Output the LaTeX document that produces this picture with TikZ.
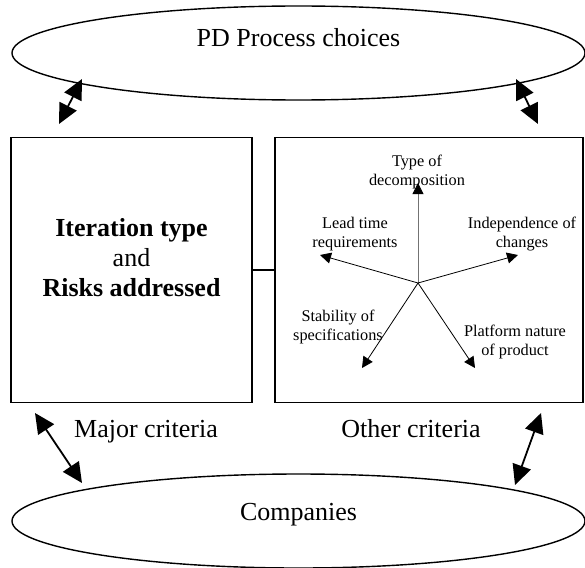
\documentclass[tikz,border=0pt]{standalone}
\usepackage{fontspec}
\setmainfont{Liberation Serif}
\usetikzlibrary{shapes.geometric,arrows.meta}
\begin{document}
\begin{tikzpicture}[x=1pt,y=-1pt,
  oval/.style={draw, line width=1.4pt, ellipse, minimum width=573pt, minimum height=94pt, inner sep=0pt},
  panel/.style={draw, line width=1.4pt, minimum height=265pt, inner sep=0pt},
  bigtext/.style={font=\fontsize{26}{30}\selectfont, align=center, inner sep=0pt},
  boldtext/.style={font=\fontsize{26}{30}\selectfont, align=center, inner sep=0pt},
  smalltext/.style={font=\fontsize{16.3}{18.5}\selectfont, align=center, inner sep=0pt},
  linkarrow/.style={line width=1.8pt, {Triangle[length=20pt,width=19pt]}-{Triangle[length=20pt,width=19pt]}},
  ray/.style={line width=0.8pt, -{Triangle[length=11pt,width=11pt,color=black]}}]
  % frame of the page
  \useasboundingbox (0,0) rectangle (585,567);

  % the two ovals
  \node[oval] (pd) at (298.5,53) {};
  \node[bigtext, anchor=base] (pdtext) at (298.5,47) {PD Process choices};
  \node[oval] (co) at (298.5,521) {};
  \node[bigtext, anchor=base] (cotext) at (298.5,520) {Companies};

  % the two criteria panels
  \node[panel, minimum width=241pt] (major) at (131.5,270) {};
  \node[panel, minimum width=308pt] (other) at (429,270) {};
  \draw[line width=1.1pt] (major.east) -- (other.west);

  \node[boldtext] (iter) at (131.5,258) {\textbf{Iteration type}\\and\\\textbf{Risks addressed}};

  % labels under the panels
  \node[bigtext, anchor=base] (majlab) at (146,437) {Major criteria};
  \node[bigtext, anchor=base] (othlab) at (411,437) {Other criteria};

  % links between ovals and panels
  \coordinate (tlA) at (82,79);   \coordinate (tlB) at (59,124);
  \coordinate (trA) at (516,79);  \coordinate (trB) at (538,124);
  \coordinate (blA) at (35,413);  \coordinate (blB) at (82,483);
  \coordinate (brA) at (541,413); \coordinate (brB) at (515,485);
  \draw[linkarrow] (tlA) -- (tlB);
  \draw[linkarrow] (trA) -- (trB);
  \draw[linkarrow] (blA) -- (blB);
  \draw[linkarrow] (brA) -- (brB);

  % star of other criteria
  \coordinate (hub) at (418,283);
  \coordinate (rUp) at (418,183);
  \coordinate (rLead) at (320,255);
  \coordinate (rIndep) at (518,255);
  \coordinate (rStab) at (362,368);
  \coordinate (rPlat) at (475,368);
  \draw[ray, draw=black!55] (hub) -- (rUp);
  \draw[ray] (hub) -- (rLead);
  \draw[ray] (hub) -- (rIndep);
  \draw[ray] (hub) -- (rStab);
  \draw[ray] (hub) -- (rPlat);

  \node[smalltext] (lType) at (417,172) {Type of\\decomposition};
  \node[smalltext] (lLead) at (355,234) {Lead time\\requirements};
  \node[smalltext] (lIndep) at (522,234) {Independence of\\changes};
  \node[smalltext] (lStab) at (338,327) {Stability of\\specifications};
  \node[smalltext] (lPlat) at (515,342) {Platform nature\\of product};
\end{tikzpicture}
\end{document}
